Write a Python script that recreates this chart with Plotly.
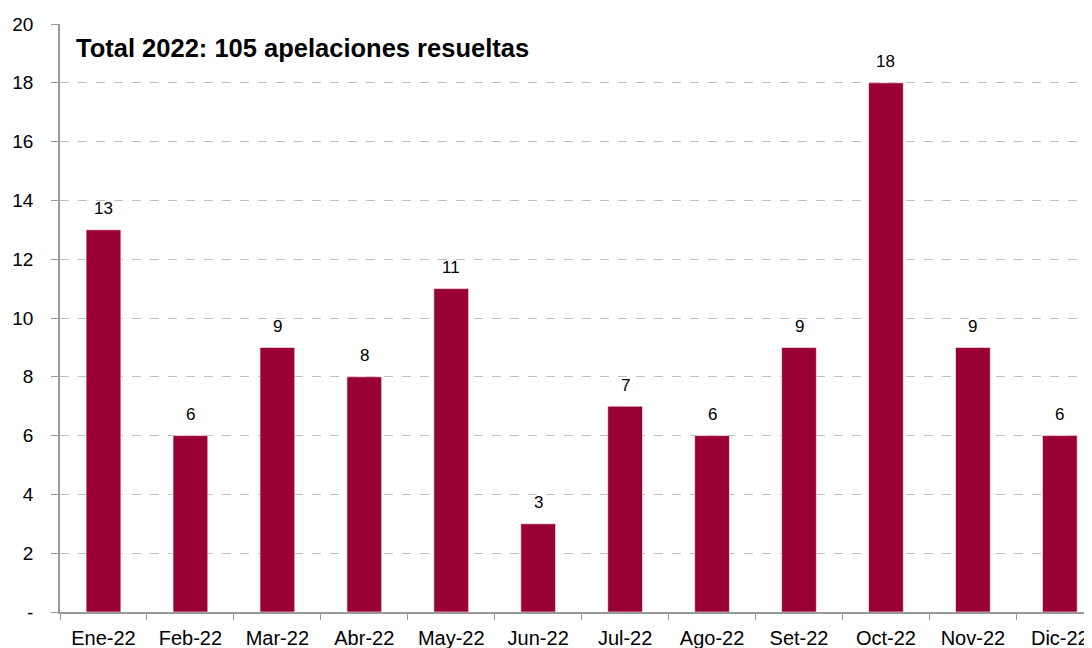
import plotly.graph_objects as go

months = ["Ene-22", "Feb-22", "Mar-22", "Abr-22", "May-22", "Jun-22",
          "Jul-22", "Ago-22", "Set-22", "Oct-22", "Nov-22", "Dic-22"]
values = [13, 6, 9, 8, 11, 3, 7, 6, 9, 18, 9, 6]
y_tickvals = [0, 2, 4, 6, 8, 10, 12, 14, 16, 18, 20]
y_ticktext = ["-", "2", "4", "6", "8", "10", "12", "14", "16", "18", "20"]
title_text = "Total 2022: 105 apelaciones resueltas"

FONT = "Liberation Sans, Arial, sans-serif"

fig = go.Figure()
fig.add_trace(go.Bar(
    x=months, y=values, width=0.4,
    marker=dict(color="#990033", line=dict(color="rgba(255,255,255,0.6)", width=1)),
))

for m, v in zip(months, values):
    fig.add_annotation(x=m, y=v, text=str(v), showarrow=False,
                       yanchor="middle", yshift=21,
                       font=dict(family=FONT, size=17, color="#000000"))

fig.add_annotation(xref="paper", yref="paper", x=0.0136, y=0.959,
                   xanchor="left", yanchor="middle", showarrow=False,
                   text="<b>" + title_text + "</b>",
                   font=dict(family=FONT, size=25.5, color="#000000"))

fig.update_layout(
    width=1092, height=648,
    margin=dict(l=52, r=8, t=16, b=44),
    paper_bgcolor="white", plot_bgcolor="white",
    showlegend=False,
    font=dict(family=FONT, size=19, color="#000000"),
    bargap=0.6,
)
fig.update_xaxes(
    range=[-0.5, 11.37], showgrid=False,
    showline=True, linecolor="#999999", linewidth=1.5,
    ticks="outside", tickson="boundaries", ticklen=6, tickcolor="#999999",
    ticklabelstandoff=7,
    tickfont=dict(family=FONT, size=20, color="#000000"),
    automargin=False,
)
fig.update_yaxes(
    range=[0, 20], tickvals=y_tickvals, ticktext=y_ticktext,
    showgrid=True, gridcolor="#c0c0c0", griddash="dash", gridwidth=1,
    showline=True, linecolor="#999999", linewidth=1.5,
    ticks="outside", ticklen=7, tickcolor="#999999",
    ticklabelstandoff=14,
    tickfont=dict(family=FONT, size=19, color="#000000"),
    zeroline=False, automargin=False,
)

fig.write_html("out.html")
